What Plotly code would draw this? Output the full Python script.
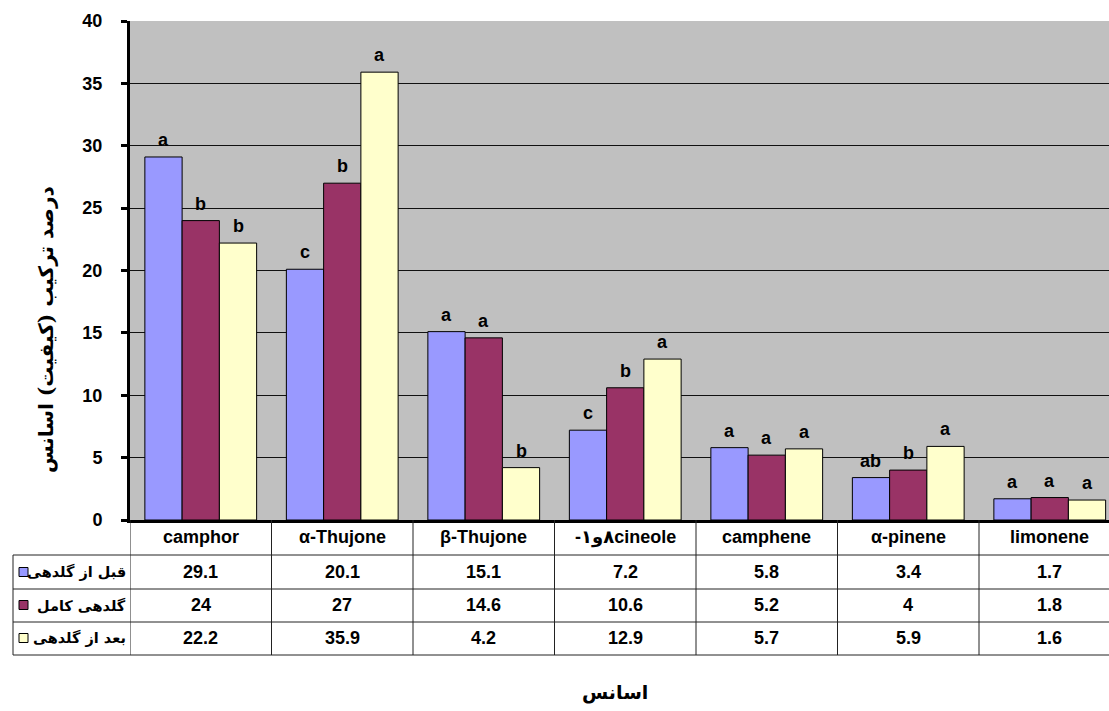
import plotly.graph_objects as go

# Essential-oil components and their share (%) at three flowering stages
categories = ["camphor", "α-Thujone", "β-Thujone", "-٨و١cineole",
              "camphene", "α-pinene", "limonene"]
series_names = ["قبل از گلدهی", "گلدهی کامل", "بعد از گلدهی"]
before_flowering = [29.1, 20.1, 15.1, 7.2, 5.8, 3.4, 1.7]
full_flowering = [24, 27, 14.6, 10.6, 5.2, 4, 1.8]
after_flowering = [22.2, 35.9, 4.2, 12.9, 5.7, 5.9, 1.6]
# Mean-separation letters shown above the bars
letters_before = ["a", "c", "a", "c", "a", "ab", "a"]
letters_full = ["b", "b", "a", "b", "a", "b", "a"]
letters_after = ["b", "a", "b", "a", "a", "a", "a"]
y_ticks = [0, 5, 10, 15, 20, 25, 30, 35, 40]

colors = ["#9999FF", "#993366", "#FFFFCC"]
values = [before_flowering, full_flowering, after_flowering]
letters = [letters_before, letters_full, letters_after]

W, H = 1109, 711
ML, MR, MT, MB = 130, 0, 21, 191
PW, PH = W - ML - MR, H - MT - MB
COL_W = 141.5  # width of one category column in px
BARGAP = 0.21

FONT = "Liberation Sans, Arial, DejaVu Sans, sans-serif"
FA_FONT = "DejaVu Sans, sans-serif"
FA_SERIF = "DejaVu Serif, DejaVu Sans, serif"


def px_x(px):
    return (px - ML) / PW


def px_y(py):
    return (H - MB - py) / PH


def bold(size, family=FONT):
    return dict(family=family, size=size, color="black", weight="bold")


idx = list(range(len(categories)))
n_series = len(values)
bar_w = (1 - BARGAP) / n_series

fig = go.Figure()
annotations = []
for s, (name, vals, col, let) in enumerate(zip(series_names, values, colors, letters)):
    fig.add_trace(go.Bar(
        x=idx, y=vals, name=name,
        marker=dict(color=col, line=dict(color="black", width=1)),
        showlegend=False,
    ))
    # significance letter centred over each bar
    offset = (s - (n_series - 1) / 2) * bar_w
    for i, (v, t) in enumerate(zip(vals, let)):
        annotations.append(dict(x=i + offset, y=v, xref="x", yref="y",
                                xanchor="center", yanchor="bottom", yshift=5,
                                text=t, showarrow=False, font=bold(18)))

shapes = []
line_style = dict(color="#222222", width=1)
# horizontal rules of the data table
for py in [555, 589, 622, 655]:
    shapes.append(dict(type="line", xref="paper", yref="paper",
                       x0=px_x(13), x1=1.0, y0=px_y(py), y1=px_y(py),
                       line=line_style))
# left edge of the series-label column
shapes.append(dict(type="line", xref="paper", yref="paper",
                   x0=px_x(13), x1=px_x(13), y0=px_y(555), y1=px_y(655),
                   line=line_style))
# column separators between categories
for i in range(len(categories) + 1):
    shapes.append(dict(type="line", xref="x", yref="paper",
                       x0=i - 0.5, x1=i - 0.5, y0=0, y1=px_y(655),
                       line=line_style))

# category header row
for i, c in enumerate(categories):
    annotations.append(dict(x=i, y=px_y(537), xref="x", yref="paper",
                            xanchor="center", yanchor="middle",
                            text=c, showarrow=False, font=bold(18)))
row_centers = [572, 605, 638]
for r, (name, vals, col) in enumerate(zip(series_names, values, colors)):
    yc = row_centers[r]
    for i, v in enumerate(vals):
        annotations.append(dict(x=i, y=px_y(yc), xref="x", yref="paper",
                                xanchor="center", yanchor="middle",
                                text=f"{v:g}", showarrow=False, font=bold(18)))
    # series label with colour key
    annotations.append(dict(x=px_x(128), y=px_y(yc), xref="paper", yref="paper",
                            xanchor="right", yanchor="middle",
                            text=name, showarrow=False, font=bold(14.5, FA_FONT)))
    shapes.append(dict(type="rect", xref="paper", yref="paper",
                       x0=px_x(19), x1=px_x(28), y0=px_y(yc + 4.5), y1=px_y(yc - 4.5),
                       fillcolor=col, line=dict(color="black", width=1)))

# axis titles
annotations.append(dict(x=px_x(46), y=px_y(330), xref="paper", yref="paper",
                        xanchor="center", yanchor="middle",
                        text="درصد ترکیب (کیفیت) اسانس", textangle=-90,
                        showarrow=False, font=bold(20, FA_SERIF)))
annotations.append(dict(x=px_x(615), y=px_y(692), xref="paper", yref="paper",
                        xanchor="center", yanchor="middle",
                        text="اسانس", showarrow=False, font=bold(19, FA_SERIF)))

fig.update_layout(
    width=W, height=H, autosize=False,
    margin=dict(l=ML, r=MR, t=MT, b=MB, pad=0),
    paper_bgcolor="white", plot_bgcolor="#C0C0C0",
    barmode="group", bargap=BARGAP, bargroupgap=0,
    shapes=shapes, annotations=annotations,
    xaxis=dict(range=[-0.5, -0.5 + PW / COL_W], showticklabels=False,
               showgrid=False, zeroline=False, showline=True,
               linecolor="black", linewidth=3, ticks=""),
    yaxis=dict(range=[0, 40], tickvals=y_ticks, showgrid=True,
               gridcolor="#111111", gridwidth=1, zeroline=False,
               showline=True, linecolor="black", linewidth=3,
               ticks="outside", ticklen=6, tickwidth=3, tickcolor="black",
               ticklabelstandoff=15, tickfont=bold(18)),
)

fig.write_html("out.html")
